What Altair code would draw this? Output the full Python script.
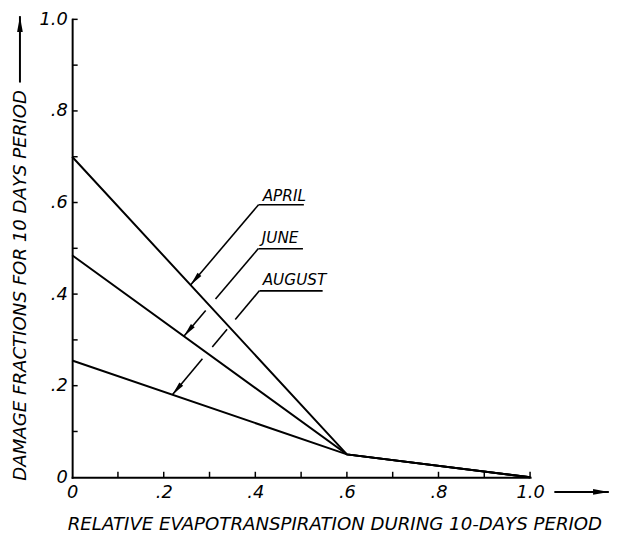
import math
import altair as alt
import pandas as pd

# ---------------- data ----------------
months = ["APRIL", "JUNE", "AUGUST"]
damage_at_zero = [0.70, 0.485, 0.255]      # damage fraction at ET = 0
knee_x, knee_y = 0.6, 0.05                 # common break point
end_x, end_y = 1.0, 0.0                    # end point

label_values = [0.0, 0.2, 0.4, 0.6, 0.8, 1.0]
tick_values = [0.1, 0.2, 0.3, 0.4, 0.5, 0.6, 0.7, 0.8, 0.9, 1.0]
tick_len = 0.012

# annotation labels (left/baseline), underlines and leader pieces
label_x = [0.416, 0.414, 0.416]
label_y = [0.603, 0.511, 0.420]
under_x1 = [0.407, 0.407, 0.409]
under_x2 = [0.506, 0.504, 0.547]
under_y = [0.595, 0.499, 0.407]
leader_month = ["APRIL", "JUNE", "JUNE", "AUGUST", "AUGUST", "AUGUST"]
leader_x1 = [0.407, 0.4067, 0.2916, 0.4088, 0.3384, 0.2845]
leader_y1 = [0.595, 0.4994, 0.3640, 0.4073, 0.3231, 0.2586]
leader_x2 = [0.2585, 0.3131, 0.244, 0.3562, 0.3060, 0.2189]
leader_y2 = [0.420, 0.3893, 0.308, 0.3444, 0.2844, 0.1802]
tip_x = [0.2585, 0.244, 0.2189]
tip_y = [0.420, 0.308, 0.1802]

# decorative direction arrows beside the axis titles
xarrow_x1, xarrow_x2, xarrow_y = 1.053, 1.172, -0.032
yarrow_x, yarrow_y1, yarrow_y2 = -0.114, 0.862, 1.007

x_title = "RELATIVE EVAPOTRANSPIRATION DURING 10-DAYS PERIOD"
y_title = "DAMAGE FRACTIONS FOR 10 DAYS PERIOD"

# ---------------- tables ----------------
rows = []
for m, y0 in zip(months, damage_at_zero):
    rows += [dict(month=m, o=0, x=0.0, y=y0), dict(month=m, o=1, x=knee_x, y=knee_y),
             dict(month=m, o=2, x=end_x, y=end_y)]
lines_df = pd.DataFrame(rows)

xt_df = pd.DataFrame({"x": tick_values, "y": 0.0, "y2": tick_len})
yt_df = pd.DataFrame({"y": tick_values, "x": 0.0, "x2": tick_len})
lab_df = pd.DataFrame({"month": months, "x": label_x, "y": label_y})
und_df = pd.DataFrame({"x": under_x1, "x2": under_x2, "y": under_y})
lead_df = pd.DataFrame({"month": leader_month, "x": leader_x1, "y": leader_y1,
                        "x2": leader_x2, "y2": leader_y2})
# arrowhead direction from the first leader piece of each month
angles = []
for m in months:
    seg = lead_df[lead_df.month == m].iloc[0]
    dx = seg.x - seg.x2
    dy = seg.y - seg.y2
    angles.append(math.degrees(math.atan2(-dx, -dy)) % 360)
tips_df = pd.DataFrame({"x": tip_x, "y": tip_y, "a": angles})

xarr_df = pd.DataFrame({"x": [xarrow_x1], "x2": [xarrow_x2], "y": [xarrow_y]})
xhead_df = pd.DataFrame({"x": [xarrow_x2], "y": [xarrow_y], "a": [90.0]})
yarr_df = pd.DataFrame({"x": [yarrow_x], "y": [yarrow_y1], "y2": [yarrow_y2]})
yhead_df = pd.DataFrame({"x": [yarrow_x], "y": [yarrow_y2], "a": [0.0]})

# ---------------- styling ----------------
FONT = "DejaVu Sans"
W = H = 464
label_expr = ("datum.value == 0 ? '0' : (datum.value == 1 ? '1.0' : "
              "replace(format(datum.value, '.1f'), '0.', '.'))")

SX = alt.Scale(domain=[0, 1], nice=False, zero=False)
SY = alt.Scale(domain=[0, 1], nice=False, zero=False)

common_axis = dict(values=label_values, labelExpr=label_expr, ticks=False, tickSize=0,
                   grid=False, domainColor="black", domainWidth=2, domainCap="square",
                   labelFont=FONT, labelFontSize=18, labelFontStyle="italic",
                   labelColor="black", labelFlush=False, labelOverlap=False,
                   titleFont=FONT, titleFontSize=18.4, titleFontStyle="italic",
                   titleFontWeight="normal", titleColor="black")
AX = alt.Axis(title=x_title, labelPadding=6, titleX=-5, titleY=53, titleAlign="left",
              titleBaseline="alphabetic", titleAnchor="start", **common_axis)
AY = alt.Axis(title=y_title, labelPadding=5, titleAngle=270, titleX=-53, titleY=467,
              titleAlign="left", titleBaseline="middle", titleAnchor="start", **common_axis)

X = alt.X("x:Q", scale=SX, axis=AX)
Y = alt.Y("y:Q", scale=SY, axis=AY)

head_shape = "M0,0 L0.36,2 L-0.36,2 Z"

lines = alt.Chart(lines_df).mark_line(color="black", strokeWidth=2).encode(
    x=X, y=Y, detail="month:N", order="o:Q")
xticks = alt.Chart(xt_df).mark_rule(color="black", strokeWidth=1.5).encode(
    x=X, y=Y, y2="y2:Q")
yticks = alt.Chart(yt_df).mark_rule(color="black", strokeWidth=1.5).encode(
    x=X, x2="x2:Q", y=Y)
underlines = alt.Chart(und_df).mark_rule(color="black", strokeWidth=1.6).encode(
    x=X, x2="x2:Q", y=Y)
leaders = alt.Chart(lead_df).mark_rule(color="black", strokeWidth=1.6).encode(
    x=X, y=Y, x2="x2:Q", y2="y2:Q")
heads = alt.Chart(tips_df).mark_point(shape=head_shape, filled=True, color="black",
                                      opacity=1, size=196, strokeWidth=0).encode(
    x=X, y=Y, angle=alt.Angle("a:Q", scale=None))
labels = alt.Chart(lab_df).mark_text(align="left", baseline="alphabetic", font=FONT,
                                     fontSize=15.5, fontStyle="italic", color="black").encode(
    x=X, y=Y, text="month:N")
xarrow = alt.Chart(xarr_df).mark_rule(color="black", strokeWidth=2).encode(
    x=X, x2="x2:Q", y=Y)
xhead = alt.Chart(xhead_df).mark_point(shape=head_shape, filled=True, color="black",
                                       opacity=1, size=256, strokeWidth=0).encode(
    x=X, y=Y, angle=alt.Angle("a:Q", scale=None))
yarrow = alt.Chart(yarr_df).mark_rule(color="black", strokeWidth=2).encode(
    x=X, y=Y, y2="y2:Q")
yhead = alt.Chart(yhead_df).mark_point(shape=head_shape, filled=True, color="black",
                                       opacity=1, size=256, strokeWidth=0).encode(
    x=X, y=Y, angle=alt.Angle("a:Q", scale=None))

chart = alt.layer(lines, xticks, yticks, underlines, leaders, heads, labels,
                  xarrow, xhead, yarrow, yhead).properties(
    width=W, height=H,
    autosize=alt.AutoSizeParams(type="none"),
    padding={"left": 65, "top": 8, "right": 82, "bottom": 55},
    background="white",
).configure_view(stroke=None)

chart.save("out.html", embed_options={"renderer": "svg", "actions": False})
